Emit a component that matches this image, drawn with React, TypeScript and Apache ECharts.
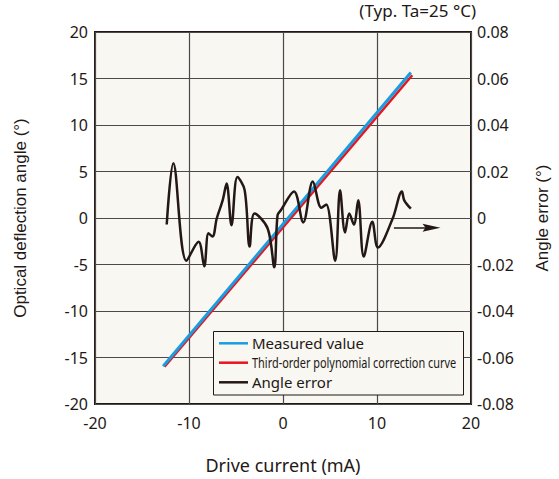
import React, { useEffect, useRef } from "react";
import * as echarts from "echarts";

// ---- data ----
const seriesNames = [
  "Measured value",
  "Third-order polynomial correction curve",
  "Angle error",
];
const measured: [number, number][] = [
  [-12.75, -15.95],
  [13.6, 15.65],
];
const correction: [number, number][] = [
  [-12.6, -16.0],
  [13.75, 15.35],
];
const angleErrorX = [
  -12.37, -11.67, -10.27, -8.98, -8.38, -7.93, -7.5, -7.05, -6.42, -6.0, -5.48,
  -4.85, -4.08, -3.55, -3.03, -1.63, -0.93, -0.58, -0.23, 1.17, 2.15, 3.17,
  4.08, 4.6, 5.55, 6.07, 6.6, 7.05, 7.54, 8.0, 8.59, 9.5, 10.1, 11.67, 12.65,
  12.9, 13.6,
];
const angleErrorY = [
  -0.0028, 0.0236, -0.0184, -0.0102, -0.0208, -0.0066, -0.008, -0.0002, 0.0076,
  0.0148, -0.0031, 0.0176, 0.012, -0.0123, 0.0019, -0.0045, -0.0212, 0.0012,
  0.0033, 0.0114, -0.0019, 0.0157, 0.0044, 0.0058, -0.0184, 0.0119, -0.0062,
  0.0019, -0.0028, 0.0076, -0.0166, -0.0016, -0.0127, -0.0002, 0.0114, 0.0076,
  0.004,
];
const arrowStart: [number, number] = [11.8, -0.0042];
const arrowEnd: [number, number] = [15.8, -0.0042];
const xRange = [-20, 20];
const leftRange = [-20, 20];
const rightRange = [-0.08, 0.08];
const annotation = "(Typ. Ta=25 °C)";

const colors = ["#1a9de0", "#e8141e", "#231815"];
const BG = "#f8f7f2";
const DARK = "#231815";
const GRID = "#4d4948";

export default function App() {
  const ref = useRef<HTMLDivElement>(null);
  useEffect(() => {
    if (!ref.current) return;
    const chart = echarts.init(ref.current, null, { renderer: "svg" });
    const tickFont = { fontFamily: "Noto Sans", fontSize: 16, color: "#231815" };
    const legendRows = [343.3, 362.7, 382.3];
    chart.setOption({
      animation: false,
      backgroundColor: "#ffffff",
      grid: {
        left: 95,
        right: 83,
        top: 32,
        bottom: 71,
        show: true,
        backgroundColor: BG,
        borderColor: DARK,
        borderWidth: 2,
      },
      xAxis: {
        type: "value",
        min: xRange[0],
        max: xRange[1],
        interval: 10,
        axisLine: { show: false },
        axisTick: { show: false },
        splitLine: { show: true, lineStyle: { color: GRID, width: 1.2 } },
        axisLabel: { ...tickFont, margin: 11 },
        name: "Drive current (mA)",
        nameLocation: "middle",
        nameGap: 52,
        nameTextStyle: { fontFamily: "Noto Sans", fontSize: 18, color: "#231815" },
      },
      yAxis: [
        {
          type: "value",
          min: leftRange[0],
          max: leftRange[1],
          interval: 5,
          axisLine: { show: false },
          axisTick: { show: false },
          splitLine: { show: true, lineStyle: { color: GRID, width: 1.2 } },
          axisLabel: { ...tickFont, margin: 7 },
          name: "Optical deflection angle (°)",
          nameLocation: "middle",
          nameRotate: 90,
          nameGap: 66,
          nameTextStyle: { fontFamily: "Liberation Sans", fontSize: 17, color: "#231815" },
        },
        {
          type: "value",
          min: rightRange[0],
          max: rightRange[1],
          interval: 0.02,
          position: "right",
          axisLine: { show: false },
          axisTick: { show: false },
          splitLine: { show: false },
          axisLabel: { ...tickFont, margin: 6 },
          name: "Angle error (°)",
          nameLocation: "middle",
          nameRotate: 90,
          nameGap: 63,
          nameTextStyle: { fontFamily: "Liberation Sans", fontSize: 17, color: "#231815" },
        },
      ],
      series: [
        {
          name: seriesNames[1],
          type: "line",
          data: correction,
          showSymbol: false,
          lineStyle: { color: colors[1], width: 2.5 },
          z: 3,
          silent: true,
        },
        {
          name: seriesNames[0],
          type: "line",
          data: measured,
          showSymbol: false,
          lineStyle: { color: colors[0], width: 3 },
          z: 4,
          silent: true,
        },
        {
          name: seriesNames[2],
          type: "line",
          yAxisIndex: 1,
          data: angleErrorX.map((x, i) => [x, angleErrorY[i]]),
          showSymbol: false,
          smooth: 0.35,
          lineStyle: { color: colors[2], width: 2.5 },
          z: 5,
          silent: true,
          markLine: {
            silent: true,
            animation: false,
            label: { show: false },
            lineStyle: { color: DARK, width: 1.5, type: "solid" },
            data: [
              [
                { coord: arrowStart, symbol: "none" },
                {
                  coord: arrowEnd,
                  symbol: "path://M4,0 L8,18 L4,15 L0,18 Z",
                  symbolSize: [8, 18],
                },
              ],
            ],
          },
        },
      ],
      graphic: [
        {
          type: "text",
          right: 83,
          top: 2,
          style: {
            text: annotation,
            fontFamily: "Noto Sans",
            fontSize: 17,
            fill: "#231815",
          },
        },
        {
          type: "rect",
          z: 100,
          shape: { x: 213.5, y: 331.5, width: 250, height: 63.5 },
          style: { fill: BG, stroke: DARK, lineWidth: 1 },
        },
        ...legendRows.map((y, i) => ({
          type: "line",
          z: 101,
          shape: { x1: 219, y1: y, x2: 248, y2: y },
          style: { stroke: colors[i], lineWidth: 2.5 },
        })),
        ...legendRows.map((y, i) => ({
          type: "text",
          z: 101,
          x: 252,
          y: y,
          scaleX: i === 1 ? 0.78 : 1,
          style: {
            text: seriesNames[i],
            x: 0,
            y: 0,
            verticalAlign: "middle",
            fontFamily: "Noto Sans",
            fontSize: i === 1 ? 14 : 15,
            fill: "#231815",
          },
        })),
      ],
    });
    return () => chart.dispose();
  }, []);
  return <div ref={ref} style={{ width: 559, height: 479, position: "absolute", left: 0, top: 0 }} />;
}
